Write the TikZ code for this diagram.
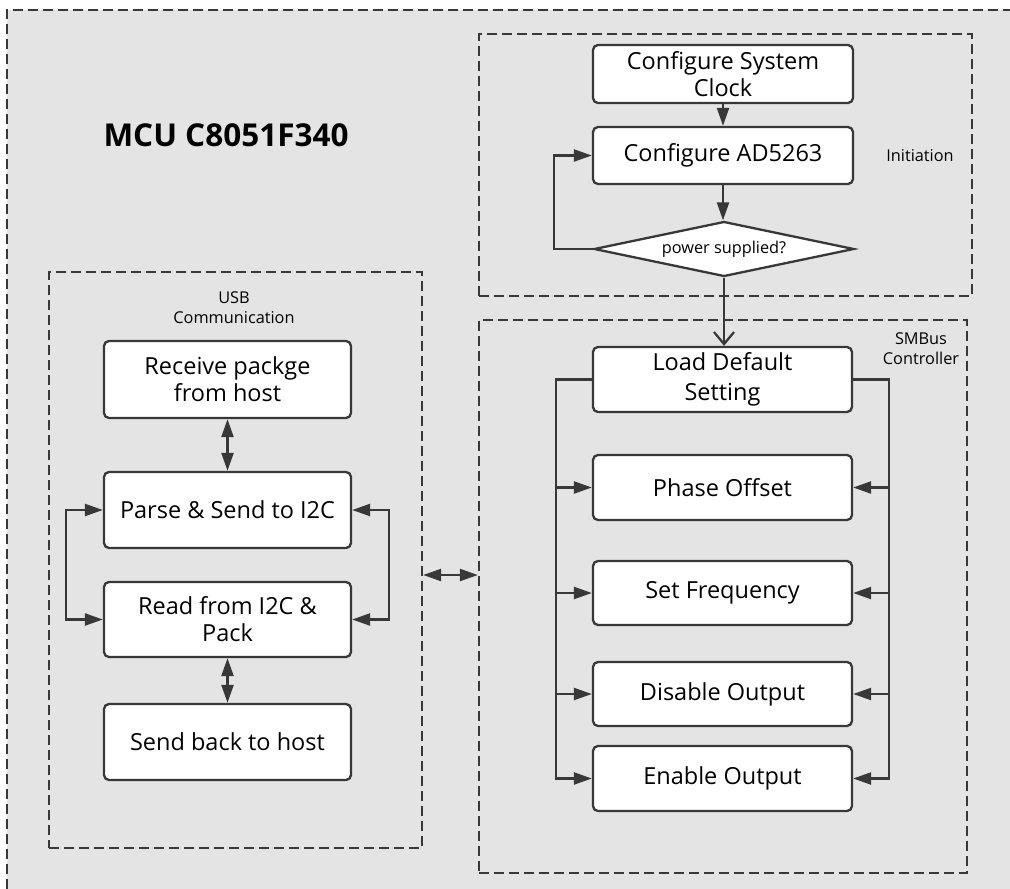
\documentclass[tikz,border=0pt]{standalone}
\usepackage{fontspec}
\setmainfont{Open Sans}
\usetikzlibrary{arrows.meta,shapes.geometric,calc}
\definecolor{bgc}{HTML}{E4E4E4}
\definecolor{lnc}{HTML}{383838}
\begin{document}
\begin{tikzpicture}[x=1pt,y=-1pt,
  box/.style={draw=lnc,line width=2.3pt,fill=white,rounded corners=5pt,inner sep=0pt,align=center,font=\fontsize{23.5}{27}\selectfont,minimum width=260pt},
  grp/.style={draw=lnc,line width=2.3pt,dash pattern=on 10pt off 5pt,inner sep=0pt},
  small/.style={font=\fontsize{16.3}{20}\selectfont,align=center,inner sep=0pt},
  conn/.style={draw=lnc,line width=2.3pt},
  arr/.style={conn,-{Triangle[length=18pt,width=12pt]}},
  dbl/.style={conn,{Triangle[length=18pt,width=12pt]}-{Triangle[length=18pt,width=12pt]}},
  varr/.style={conn,-{Straight Barb[length=12pt,width=20pt]}}]
\useasboundingbox (0,0) rectangle (1010,889);
\fill[white] (0,0) rectangle (1010,889);
\fill[bgc] (7,10) rectangle (1010,889);
\draw[conn,dash pattern=on 10pt off 5pt] (7,889) -- (7,10) -- (1010,10);

% containers
\node[grp,minimum width=493pt,minimum height=262pt] (init) at (725.5,165) {};
\node[grp,minimum width=373pt,minimum height=576pt] (usb) at (235.5,560) {};
\node[grp,minimum width=488pt,minimum height=553pt] (smb) at (723,596.5) {};

\node[font=\fontsize{31.5}{36}\selectfont\bfseries,inner sep=0pt] (title) at (226,135) {MCU C8051F340};

% initiation
\node[box,minimum height=58pt] (clock) at (723,74) {Configure System\\Clock};
\node[box,minimum height=57pt] (ad) at (723,155.5) {Configure AD5263};
\node[draw=lnc,line width=2.3pt,fill=white,shape=diamond,shape aspect=4.7,minimum width=260pt,minimum height=55pt,inner sep=0pt,font=\fontsize{16.3}{20}\selectfont] (dia) at (724,249) {power supplied?};
\node[small] (initl) at (920,156) {Initiation};

% USB
\node[small] (usbl) at (234,308) {USB\\Communication};
\node[box,minimum width=247pt,minimum height=77pt] (recv) at (227.5,379.5) {Receive packge\\from host};
\node[box,minimum width=247pt,minimum height=76pt] (parse) at (227.5,510) {Parse \& Send to I2C};
\node[box,minimum width=247pt,minimum height=75pt] (read) at (227.5,619.5) {Read from I2C \&\\Pack};
\node[box,minimum width=247pt,minimum height=76pt] (send) at (227.5,742) {Send back to host};

% SMBus
\node[small] (smbl) at (921,349) {SMBus\\Controller};
\node[box,minimum width=259pt,minimum height=65pt,font=\fontsize{23.5}{30}\selectfont] (load) at (722.5,379.5) {Load Default\\Setting};
\node[box,minimum width=259pt,minimum height=65pt] (phase) at (722.5,487.5) {Phase Offset};
\node[box,minimum width=259pt,minimum height=64pt] (freq) at (722.5,593) {Set Frequency};
\node[box,minimum width=259pt,minimum height=64pt] (dis) at (722.5,694) {Disable Output};
\node[box,minimum width=259pt,minimum height=65pt] (en) at (722.5,778.5) {Enable Output};

% connectors initiation
\draw[arr] (clock) -- (ad);
\draw[arr] (ad.south) -- (ad.south |- dia.north);
\draw[arr] (dia.west) -- ++(-39,0) |- (ad.west);
\draw[varr] (dia.south) -- (dia.south |- load.north);

% connectors USB
\draw[dbl] (recv) -- (parse);
\draw[dbl] (read) -- (send);
\draw[dbl] (parse.west) -- ++(-37,0) |- (read.west);
\draw[dbl] (parse.east) -- ++(37,0) |- (read.east);
\coordinate (uc) at ([yshift=-15pt]usb.east);
\draw[dbl] (uc) -- (uc -| smb.west);

% connectors SMBus
\coordinate (lb) at (556,379.5);
\coordinate (rb) at (889,379.5);
\draw[arr] (load.west) -- (lb) |- (en.west);
\draw[arr] (load.east) -- (rb) |- (en.east);
\foreach \n in {phase,freq,dis}{
  \draw[arr] (lb |- \n.west) -- (\n.west);
  \draw[arr] (rb |- \n.east) -- (\n.east);
}
\end{tikzpicture}
\end{document}
